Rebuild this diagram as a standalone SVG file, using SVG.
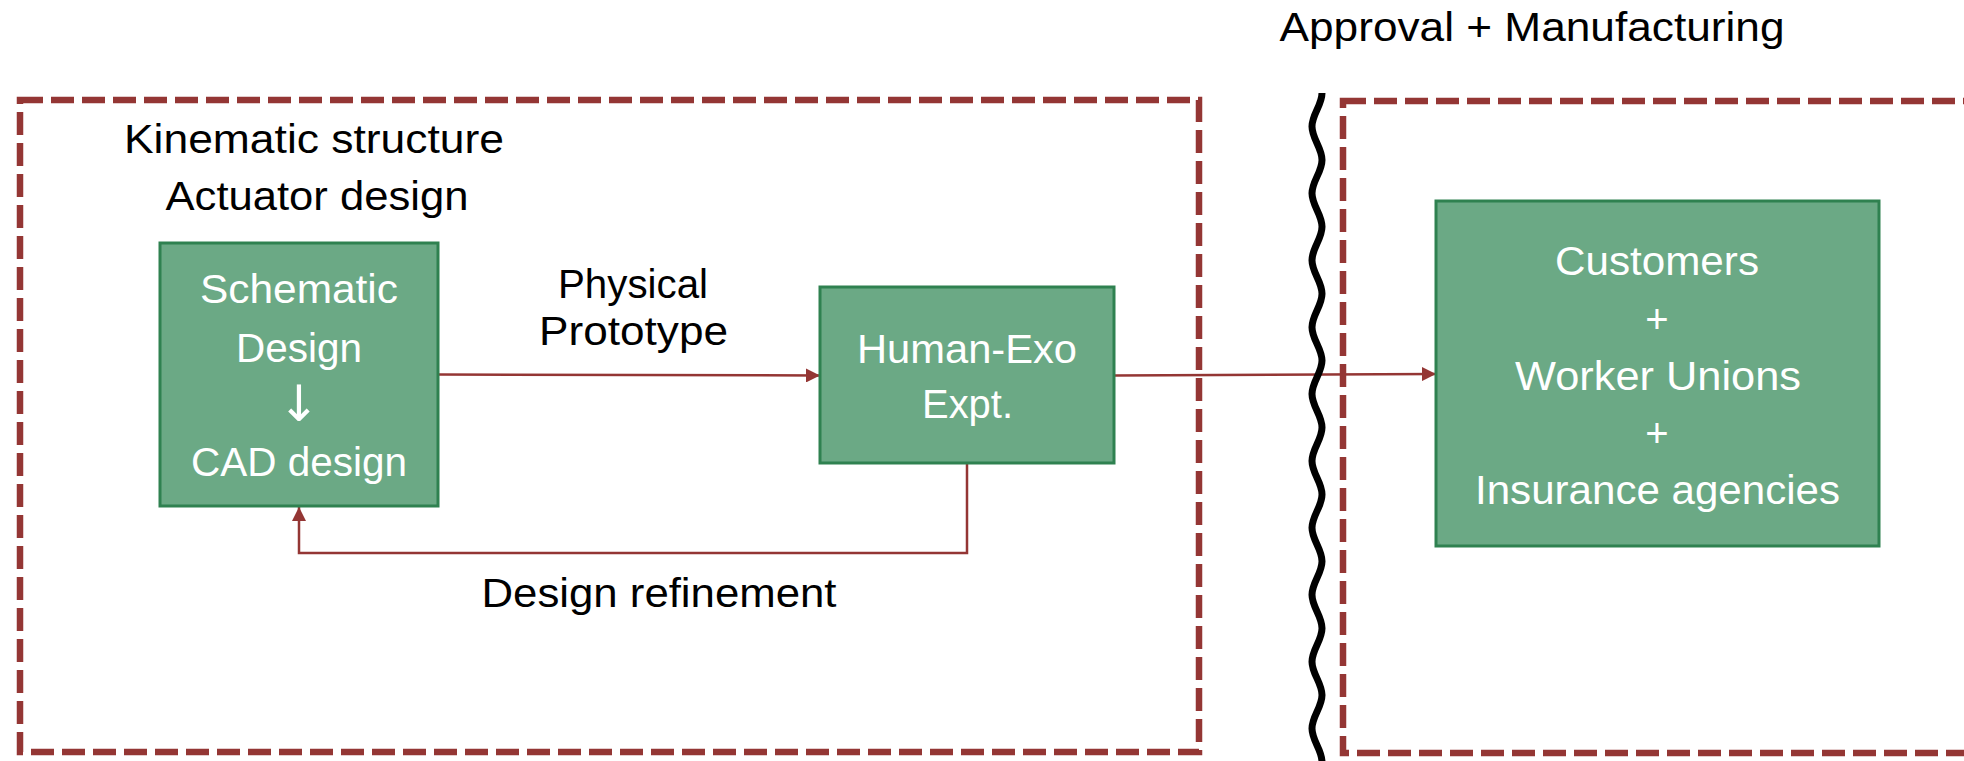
<svg xmlns="http://www.w3.org/2000/svg" width="1964" height="761" viewBox="0 0 1964 761">
<defs>
<style>
.frame{fill:none;stroke:#943634;stroke-width:6.5;stroke-dasharray:23 8}
.box{fill:#6BA985;stroke:#2F8150;stroke-width:3}
.conn{fill:none;stroke:#943634;stroke-width:2.5}
.lbl{font-family:"Liberation Sans",Arial,sans-serif;font-size:40px;fill:#000;text-anchor:middle}
.wt{font-family:"Liberation Sans",Arial,sans-serif;font-size:40px;fill:#fff;text-anchor:middle}
.wave{fill:none;stroke:#000;stroke-width:7}
</style>
<marker id="arr" markerUnits="userSpaceOnUse" markerWidth="14" markerHeight="14" refX="14" refY="7" orient="auto">
<path d="M0,0 L14,7 L0,14 z" fill="#943634"/>
</marker>
</defs>
<rect width="1964" height="761" fill="#fff"/>

<g id="connectors">
<path class="conn" d="M438,374.5 L820,375.5" marker-end="url(#arr)"/>
<path class="conn" d="M1114,375.5 L1436,374" marker-end="url(#arr)"/>
<path class="conn" d="M967,463 V553 H299 V507" marker-end="url(#arr)"/>
</g>

<g id="design-phase">
<rect class="frame" x="20" y="100" width="1179" height="652"/>
</g>
<g id="approval-phase">
<rect class="frame" x="1343" y="101" width="700" height="652"/>
</g>
<g id="divider">
<path class="wave" d="M1322,93 C1322,105.18 1312,114.27 1312,126.45 S1322,147.72 1322,159.9 S1312,181.17 1312,193.35 S1322,214.62 1322,226.8 S1312,248.07 1312,260.25 S1322,281.52 1322,293.7 S1312,314.97 1312,327.15 S1322,348.42 1322,360.6 S1312,381.87 1312,394.05 S1322,415.32 1322,427.5 S1312,448.77 1312,460.95 S1322,482.22 1322,494.4 S1312,515.67 1312,527.85 S1322,549.12 1322,561.3 S1312,582.57 1312,594.75 S1322,616.02 1322,628.2 S1312,649.47 1312,661.65 S1322,682.92 1322,695.1 S1312,716.37 1312,728.55 S1322,749.82 1322,762 S1312,783.27 1312,795.45"/>
</g>

<g id="title-approval">
<text class="lbl" x="1532" y="41" textLength="505" lengthAdjust="spacingAndGlyphs">Approval + Manufacturing</text>
</g>
<g id="title-design">
<text class="lbl" x="314" y="153" textLength="380" lengthAdjust="spacingAndGlyphs">Kinematic structure</text>
<text class="lbl" x="317" y="210" textLength="303" lengthAdjust="spacingAndGlyphs">Actuator design</text>
</g>

<g id="schematic">
<rect class="box" x="160" y="243" width="278" height="263"/>
<text class="wt" x="299" y="303" textLength="198" lengthAdjust="spacingAndGlyphs">Schematic</text>
<text class="wt" x="299" y="362" textLength="126" lengthAdjust="spacingAndGlyphs">Design</text>
<text class="wt" x="299" y="421" style="font-family:'DejaVu Sans',sans-serif;font-size:50px">↓</text>
<text class="wt" x="299" y="476" textLength="216" lengthAdjust="spacingAndGlyphs">CAD design</text>
</g>

<g id="physical-label">
<text class="lbl" x="633" y="298" textLength="150" lengthAdjust="spacingAndGlyphs">Physical</text>
<text class="lbl" x="633.5" y="345" textLength="189" lengthAdjust="spacingAndGlyphs">Prototype</text>
</g>

<g id="human-exo">
<rect class="box" x="820" y="287" width="294" height="176"/>
<text class="wt" x="967" y="363" textLength="220" lengthAdjust="spacingAndGlyphs">Human-Exo</text>
<text class="wt" x="967.5" y="418" textLength="91" lengthAdjust="spacingAndGlyphs">Expt.</text>
</g>

<g id="refinement-label">
<text class="lbl" x="659" y="607" textLength="355" lengthAdjust="spacingAndGlyphs">Design refinement</text>
</g>

<g id="stakeholders">
<rect class="box" x="1436" y="201" width="443" height="345"/>
<text class="wt" x="1657" y="275" textLength="204" lengthAdjust="spacingAndGlyphs">Customers</text>
<text class="wt" x="1657" y="332.5">+</text>
<text class="wt" x="1658" y="390" textLength="286" lengthAdjust="spacingAndGlyphs">Worker Unions</text>
<text class="wt" x="1657" y="447">+</text>
<text class="wt" x="1657.5" y="504" textLength="365" lengthAdjust="spacingAndGlyphs">Insurance agencies</text>
</g>
</svg>
